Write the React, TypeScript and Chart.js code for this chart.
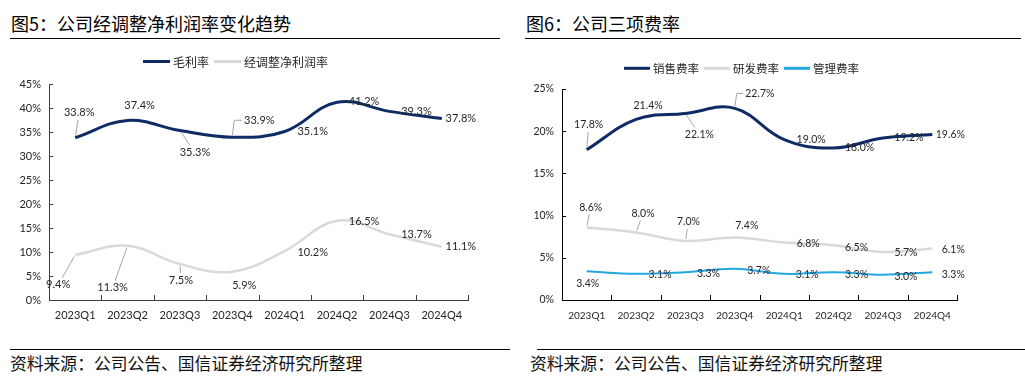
import React, { useEffect, useRef } from "react";
import { Chart, registerables } from "chart.js";

Chart.register(...registerables);

const quarters = ["2023Q1", "2023Q2", "2023Q3", "2023Q4", "2024Q1", "2024Q2", "2024Q3", "2024Q4"];
const grossMargin = [33.8, 37.4, 35.3, 33.9, 35.1, 41.2, 39.3, 37.8];
const adjNetMargin = [9.4, 11.3, 7.5, 5.9, 10.2, 16.5, 13.7, 11.1];
const salesRate = [17.8, 21.4, 22.1, 22.7, 19.0, 18.0, 19.2, 19.6];
const rdRate = [8.6, 8.0, 7.0, 7.4, 6.8, 6.5, 5.7, 6.1];
const adminRate = [3.4, 3.1, 3.3, 3.7, 3.1, 3.3, 3.0, 3.3];

// label placement relative to the point: [dx, dy, leader(0 none,1 diagonal,2 elbow)]
const grossLabelPos = [[4, -25, 1], [12, -15, 0], [15, 22, 1], [27, -17, 2], [28, 0, 0], [27, -1, 0], [27, 0, 0], [19, 0, 0]];
const netLabelPos = [[-17, 30, 1], [-15, 42, 1], [1, 16, 1], [12, 14, 0], [28, 1, 0], [27, 1, 0], [27, 0, 0], [19, 0, 0]];
const salesLabelPos = [[2, -25, 1], [12, -14, 0], [14, 21, 1], [25, -15, 2], [27, 0, 0], [26, 0, 0], [26, 0, 0], [18, 0, 0]];
const rdLabelPos = [[4, -20, 1], [7, -19, 1], [3, -19, 1], [12, -12, 0], [24, 1, 0], [23, 2, 0], [23, 1, 0], [21, 1, 0]];
const adminLabelPos = [[1, 12, 0], [24, 1, 0], [23, 1, 0], [24, 2, 0], [23, 1, 0], [23, 2, 0], [23, 2, 0], [21, 2, 0]];

const NAVY = "#0f2b63";
const GRAY = "#d9d9d9";
const BLUE = "#22a7e0";
const TEXT = "#262626";
const NUM_FONT = "Lato, 'Liberation Sans', sans-serif";
const CJK_FONT = "'Noto Sans CJK SC', sans-serif";

const labelPlugin = {
  id: "pointLabels",
  afterDatasetsDraw(chart: any, _args: any, opts: any) {
    const ctx = chart.ctx;
    ctx.save();
    ctx.font = `${opts.fontSize}px ${NUM_FONT}`;
    ctx.textAlign = "center";
    ctx.textBaseline = "middle";
    chart.data.datasets.forEach((ds: any, di: number) => {
      const meta = chart.getDatasetMeta(di);
      const place = ds.labelPos as number[][];
      meta.data.forEach((pt: any, i: number) => {
        const [dx, dy, leader] = place[i];
        const txt = ds.data[i].toFixed(1) + "%";
        const cx = pt.x + dx;
        const cy = pt.y + dy;
        const w = ctx.measureText(txt).width;
        const hw = w / 2 + 2;
        const hh = 7;
        if (leader) {
          ctx.strokeStyle = "#a6a6a6";
          ctx.lineWidth = 1;
          ctx.beginPath();
          if (leader === 1) {
            const vx = cx - pt.x;
            const vy = cy - pt.y;
            const len = Math.hypot(vx, vy);
            const s = Math.min(vx !== 0 ? hw / Math.abs(vx) : 1e9, vy !== 0 ? hh / Math.abs(vy) : 1e9);
            ctx.moveTo(pt.x + (vx / len) * 2, pt.y + (vy / len) * 2);
            ctx.lineTo(cx - s * vx, cy - s * vy);
          } else {
            ctx.moveTo(pt.x, pt.y - 2);
            ctx.lineTo(pt.x + 2, cy);
            ctx.lineTo(cx - w / 2 - 2, cy);
          }
          ctx.stroke();
        }
        ctx.fillStyle = TEXT;
        ctx.fillText(txt, cx, cy);
      });
    });
    ctx.restore();
  },
};

const legendPlugin = {
  id: "customLegend",
  afterDraw(chart: any, _args: any, opts: any) {
    const ctx = chart.ctx;
    ctx.save();
    ctx.font = `${opts.fontSize}px ${CJK_FONT}`;
    ctx.textBaseline = "middle";
    ctx.textAlign = "left";
    let x = opts.x;
    const y = opts.y;
    chart.data.datasets.forEach((ds: any) => {
      ctx.strokeStyle = ds.borderColor;
      ctx.lineWidth = 3;
      ctx.beginPath();
      ctx.moveTo(x, y);
      ctx.lineTo(x + opts.sample, y);
      ctx.stroke();
      x += opts.sample + 3;
      ctx.fillStyle = TEXT;
      ctx.fillText(ds.label, x, y + 0.5);
      x += ctx.measureText(ds.label).width + 5;
    });
    ctx.restore();
  },
};

const tickPlugin = {
  id: "innerTicks",
  afterDraw(chart: any, _args: any, opts: any) {
    const ctx = chart.ctx;
    const ys = chart.scales.y;
    const area = chart.chartArea;
    ctx.save();
    ctx.strokeStyle = opts.color;
    ctx.lineWidth = 1;
    ctx.beginPath();
    const n = chart.data.labels.length;
    for (let i = 1; i <= n; i++) {
      const x = Math.round(area.left + (i * (area.right - area.left)) / n) + 0.5;
      ctx.moveTo(x, area.bottom - 5);
      ctx.lineTo(x, area.bottom);
    }
    ys.ticks.forEach((t: any) => {
      const y = Math.round(ys.getPixelForValue(t.value)) + 0.5;
      ctx.moveTo(area.left, y);
      ctx.lineTo(area.left + 4, y);
    });
    ctx.stroke();
    ctx.restore();
  },
};

function makeConfig(p: any) {
  return {
    type: "line",
    data: {
      labels: quarters,
      datasets: p.datasets.map((d: any) => ({
        label: d.label,
        data: d.data,
        labelPos: d.labelPos,
        borderColor: d.color,
        backgroundColor: d.color,
        borderWidth: d.width,
        pointRadius: 0,
        tension: 0.4,
        fill: false,
      })),
    },
    plugins: [labelPlugin, legendPlugin, tickPlugin],
    options: {
      animation: false,
      responsive: false,
      maintainAspectRatio: false,
      layout: { padding: { top: p.padTop, right: p.padRight, left: 0, bottom: 0 } },
      plugins: {
        legend: { display: false },
        tooltip: { enabled: false },
        title: { display: false },
        pointLabels: { fontSize: p.labelFont },
        customLegend: { x: p.legendX, y: p.legendY, sample: p.legendSample, fontSize: p.legendFont },
        innerTicks: { color: p.axisColor },
      },
      scales: {
        x: {
          offset: true,
          grid: { display: false, drawTicks: false },
          border: { display: true, color: p.axisColor, width: 1 },
          ticks: {
            padding: p.xPad,
            color: TEXT,
            font: { family: NUM_FONT, size: p.xFont },
            maxRotation: 0,
            autoSkip: false,
          },
          afterFit(s: any) {
            s.height = 40;
          },
        },
        y: {
          min: 0,
          max: p.yMax,
          grid: { display: false, drawTicks: false },
          border: { display: true, color: p.axisColor, width: 1 },
          ticks: {
            stepSize: 5,
            padding: 8,
            color: TEXT,
            font: { family: NUM_FONT, size: p.yFont },
            callback: (v: any) => v + "%",
          },
          afterFit(s: any) {
            s.width = p.yWidth;
          },
        },
      },
    },
  };
}

function ChartCanvas(props: { cfg: any; left: number; top: number; width: number; height: number }) {
  const ref = useRef<HTMLCanvasElement>(null);
  useEffect(() => {
    const chart = new Chart(ref.current as HTMLCanvasElement, props.cfg);
    return () => chart.destroy();
  }, []);
  return (
    <div style={{ position: "absolute", left: props.left, top: props.top, width: props.width, height: props.height }}>
      <canvas ref={ref} width={props.width} height={props.height} style={{ width: props.width, height: props.height }} />
    </div>
  );
}

const leftCfg = makeConfig({
  datasets: [
    { label: "毛利率", data: grossMargin, labelPos: grossLabelPos, color: NAVY, width: 3 },
    { label: "经调整净利润率", data: adjNetMargin, labelPos: netLabelPos, color: GRAY, width: 2.5 },
  ],
  padTop: 44,
  padRight: 44,
  yWidth: 49,
  yMax: 45,
  labelFont: 11,
  xFont: 11,
  yFont: 11,
  xPad: 9,
  legendX: 143,
  legendY: 21.5,
  legendSample: 27,
  legendFont: 12,
  axisColor: "#404040",
});

const rightCfg = makeConfig({
  datasets: [
    { label: "销售费率", data: salesRate, labelPos: salesLabelPos, color: NAVY, width: 3 },
    { label: "研发费率", data: rdRate, labelPos: rdLabelPos, color: GRAY, width: 2.5 },
    { label: "管理费率", data: adminRate, labelPos: adminLabelPos, color: BLUE, width: 2 },
  ],
  padTop: 49,
  padRight: 68,
  yWidth: 50,
  yMax: 25,
  labelFont: 10.5,
  xFont: 10,
  yFont: 10.5,
  xPad: 10,
  legendX: 112,
  legendY: 28.3,
  legendSample: 26,
  legendFont: 11.5,
  axisColor: "#000000",
});

const titleStyle: React.CSSProperties = {
  position: "absolute",
  top: 14,
  fontFamily: CJK_FONT,
  fontSize: 18,
  lineHeight: "18px",
  fontWeight: 400,
  color: "#000",
  whiteSpace: "nowrap",
};
const sourceStyle: React.CSSProperties = {
  position: "absolute",
  top: 355,
  fontFamily: CJK_FONT,
  fontSize: 16.8,
  lineHeight: "17px",
  color: "#111",
  whiteSpace: "nowrap",
};
const rule = (left: number, top: number, width: number): React.CSSProperties => ({
  position: "absolute",
  left,
  top,
  width,
  height: 1,
  background: "#000",
});

export default function App() {
  return (
    <div style={{ position: "fixed", left: 0, top: 0, width: 1025, height: 379, background: "#fff", overflow: "hidden" }}>
      <div style={{ ...titleStyle, left: 11 }}>图5：公司经调整净利润率变化趋势</div>
      <div style={rule(10, 38, 490)} />
      <div style={{ ...titleStyle, left: 526 }}>图6：公司三项费率</div>
      <div style={rule(525, 38, 496)} />
      <ChartCanvas cfg={leftCfg} left={0} top={40} width={512} height={300} />
      <ChartCanvas cfg={rightCfg} left={512} top={40} width={513} height={300} />
      <div style={rule(10, 349, 500)} />
      <div style={rule(537, 349, 488)} />
      <div style={{ ...sourceStyle, left: 10 }}>资料来源：公司公告、国信证券经济研究所整理</div>
      <div style={{ ...sourceStyle, left: 530 }}>资料来源：公司公告、国信证券经济研究所整理</div>
    </div>
  );
}
